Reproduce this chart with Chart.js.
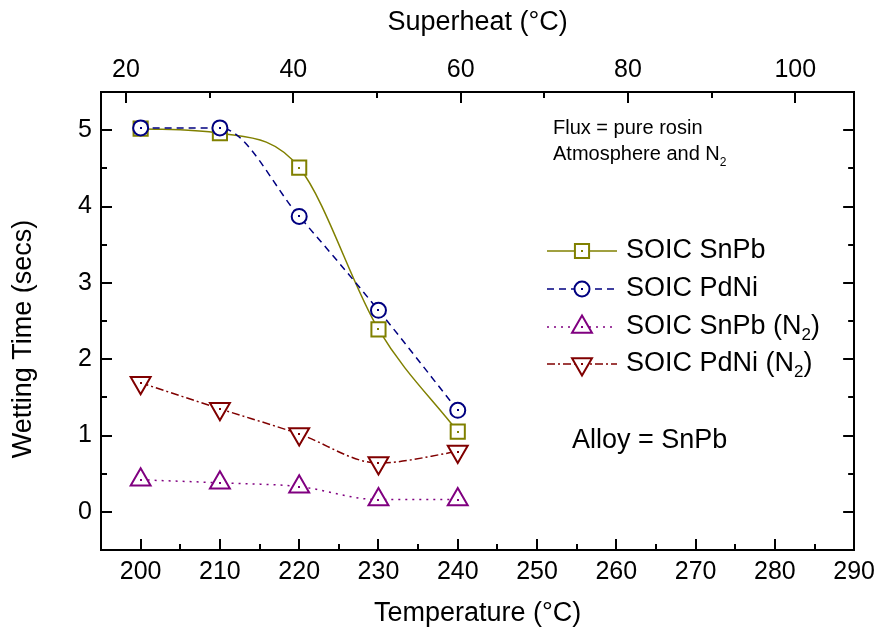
<!DOCTYPE html>
<html>
<head>
<meta charset="utf-8">
<script src="https://cdn.jsdelivr.net/npm/chart.js@4/dist/chart.umd.min.js"></script>
<style>
  body { margin: 0; background: #fff; }
</style>
</head>
<body>
<canvas id="chart" width="882" height="633"></canvas>
<script>
// values
const temperatures = [200, 210, 220, 230, 240];
const snpbAir = [5.02, 4.96, 4.51, 2.39, 1.05];
const pdniAir = [5.03, 5.03, 3.87, 2.64, 1.33];
const snpbN2 = [0.42, 0.38, 0.33, 0.16, 0.16];
const pdniN2 = [1.69, 1.35, 1.02, 0.64, 0.79];

const seriesLabels = ["SOIC SnPb", "SOIC PdNi", "SOIC SnPb (N₂)", "SOIC PdNi (N₂)"];

const tempTicks = [200, 210, 220, 230, 240, 250, 260, 270, 280, 290];
const tempMinorTicks = [205, 215, 225, 235, 245, 255, 265, 275, 285];
const superheatTicks = [20, 40, 60, 80, 100];
const superheatMinorTicks = [30, 50, 70, 90];
const timeTicks = [0, 1, 2, 3, 4, 5];
const timeMinorTicks = [0.5, 1.5, 2.5, 3.5, 4.5];

const FONT = '"Liberation Sans", Arial, sans-serif';

const toPoints = (ys) => temperatures.map((t, i) => ({ x: t, y: ys[i] }));
const setTicks = (list) => (scale) => { scale.ticks = list.map(v => ({ value: v })); };

// text with "₂" drawn as a real subscript 2
const drawRich = (ctx, text, x, y, size) => {
  const parts = text.split("₂");
  let cx = x;
  parts.forEach((p, i) => {
    ctx.font = `${size}px ${FONT}`;
    ctx.fillText(p, cx, y);
    cx += ctx.measureText(p).width;
    if (i < parts.length - 1) {
      ctx.font = `${Math.round(size * 0.62)}px ${FONT}`;
      ctx.fillText("2", cx, y + size * 0.32);
      cx += ctx.measureText("2").width;
    }
  });
};

const innerTicks = {
  id: "innerTicks",
  afterDraw(chart) {
    const { ctx, chartArea: a, scales } = chart;
    ctx.save();
    ctx.strokeStyle = "#000";
    ctx.lineWidth = 2;
    const mark = (list, scale, side, len) => list.forEach(v => {
      const p = Math.round(scale.getPixelForValue(v));
      ctx.beginPath();
      if (side === "bottom") { ctx.moveTo(p, a.bottom); ctx.lineTo(p, a.bottom - len); }
      if (side === "top") { ctx.moveTo(p, a.top); ctx.lineTo(p, a.top + len); }
      if (side === "left") { ctx.moveTo(a.left, p); ctx.lineTo(a.left + len, p); }
      if (side === "right") { ctx.moveTo(a.right, p); ctx.lineTo(a.right - len, p); }
      ctx.stroke();
    });
    mark(tempTicks, scales.x, "bottom", 11);
    mark(tempMinorTicks, scales.x, "bottom", 6);
    mark(superheatTicks, scales.x2, "top", 11);
    mark(superheatMinorTicks, scales.x2, "top", 6);
    mark(timeTicks, scales.y, "left", 11);
    mark(timeMinorTicks, scales.y, "left", 6);
    mark(timeTicks, scales.y2, "right", 11);
    mark(timeMinorTicks, scales.y2, "right", 6);
    ctx.restore();
  }
};

const centerDots = {
  id: "centerDots",
  afterDatasetDraw(chart, args) {
    const ctx = chart.ctx;
    const ds = chart.data.datasets[args.index];
    ctx.save();
    ctx.fillStyle = ds.borderColor;
    args.meta.data.forEach(pt => ctx.fillRect(Math.round(pt.x) - 1, Math.round(pt.y) - 1, 2, 2));
    ctx.restore();
  }
};

const legendAndNotes = {
  id: "legendAndNotes",
  afterDraw(chart) {
    const ctx = chart.ctx;
    ctx.save();
    const rows = [251, 289, 327, 364];
    chart.data.datasets.forEach((ds, i) => {
      const y = rows[i];
      ctx.strokeStyle = ds.borderColor;
      ctx.lineWidth = ds.borderWidth;
      ctx.setLineDash(ds.borderDash || []);
      ctx.beginPath();
      ctx.moveTo(547, y);
      ctx.lineTo(617, y);
      ctx.stroke();
      ctx.setLineDash([]);
      ctx.fillStyle = "#fff";
      ctx.lineWidth = 2;
      Chart.helpers.drawPoint(ctx, {
        pointStyle: ds.pointStyle, radius: ds.pointRadius,
        rotation: ds.pointRotation || 0, borderWidth: 2
      }, 582, y);
      ctx.fillStyle = ds.borderColor;
      ctx.fillRect(581, y - 1, 2, 2);
      ctx.fillStyle = "#000";
      ctx.textBaseline = "middle";
      drawRich(ctx, ds.label, 626, y, 27);
    });
    ctx.textBaseline = "alphabetic";
    ctx.fillStyle = "#000";
    drawRich(ctx, "Flux = pure rosin", 553, 134, 20);
    drawRich(ctx, "Atmosphere and N₂", 553, 160, 20);
    ctx.textBaseline = "middle";
    drawRich(ctx, "Alloy = SnPb", 572, 441, 27);

    // y axis title sits a little below the axis middle in the original
    ctx.translate(24, 339);
    ctx.rotate(-Math.PI / 2);
    ctx.textAlign = "center";
    ctx.font = `27px ${FONT}`;
    ctx.fillText("Wetting Time (secs)", 0, 0);
    ctx.restore();
  }
};

const axisText = { color: "#000", font: { family: FONT, size: 25 } };
const axisTitle = (text, padding) => ({
  display: true, text, color: "#000", font: { family: FONT, size: 27 }, padding
});
const frame = { display: true, color: "#000", width: 2 };
const noGrid = { display: false, drawTicks: false };

new Chart(document.getElementById("chart"), {
  type: "line",
  data: {
    datasets: [
      {
        label: seriesLabels[0], data: toPoints(snpbAir),
        borderColor: "#808000", borderWidth: 1.5,
        pointStyle: "rect", pointRadius: 10,
        order: 3
      },
      {
        label: seriesLabels[1], data: toPoints(pdniAir),
        borderColor: "#000080", borderWidth: 1.5, borderDash: [7, 5],
        pointStyle: "circle", pointRadius: 7.5,
        order: 2
      },
      {
        label: seriesLabels[2], data: toPoints(snpbN2),
        borderColor: "#800080", borderWidth: 1.5, borderDash: [2, 5],
        pointStyle: "triangle", pointRadius: 11.5,
        order: 1
      },
      {
        label: seriesLabels[3], data: toPoints(pdniN2),
        borderColor: "#800000", borderWidth: 1.5, borderDash: [8, 3, 2, 3],
        pointStyle: "triangle", pointRotation: 180, pointRadius: 11.5,
        order: 0
      }
    ].map(ds => Object.assign({
      cubicInterpolationMode: "monotone",
      fill: false,
      pointBorderWidth: 2,
      pointBackgroundColor: "#fff",
      pointBorderColor: ds.borderColor,
      pointHoverRadius: ds.pointRadius
    }, ds))
  },
  options: {
    responsive: false,
    animation: false,
    devicePixelRatio: 1,
    layout: { padding: 0 },
    plugins: { legend: { display: false }, tooltip: { enabled: false } },
    scales: {
      x: {
        type: "linear", position: "bottom", min: 195, max: 290,
        afterBuildTicks: setTicks(tempTicks),
        afterFit: (s) => { s.height = 83; },
        grid: noGrid, border: frame,
        ticks: Object.assign({ padding: 7, maxRotation: 0, autoSkip: false }, axisText),
        title: axisTitle("Temperature (°C)", { top: 0, bottom: 3 })
      },
      x2: {
        type: "linear", position: "top", min: 17.02, max: 107.03,
        afterBuildTicks: setTicks(superheatTicks),
        afterFit: (s) => { s.height = 92; },
        grid: noGrid, border: frame,
        ticks: Object.assign({ padding: 7, maxRotation: 0, autoSkip: false }, axisText),
        title: axisTitle("Superheat (°C)", { top: 6, bottom: 0 })
      },
      y: {
        type: "linear", position: "left", min: -0.5, max: 5.5,
        afterBuildTicks: setTicks(timeTicks),
        afterFit: (s) => { s.width = 101; },
        grid: noGrid, border: frame,
        ticks: Object.assign({ padding: 9 }, axisText)
      },
      y2: {
        type: "linear", position: "right", min: -0.5, max: 5.5,
        afterFit: (s) => { s.width = 26; },
        grid: noGrid, border: frame,
        ticks: { display: false }
      }
    }
  },
  plugins: [innerTicks, centerDots, legendAndNotes]
});
</script>
</body>
</html>
